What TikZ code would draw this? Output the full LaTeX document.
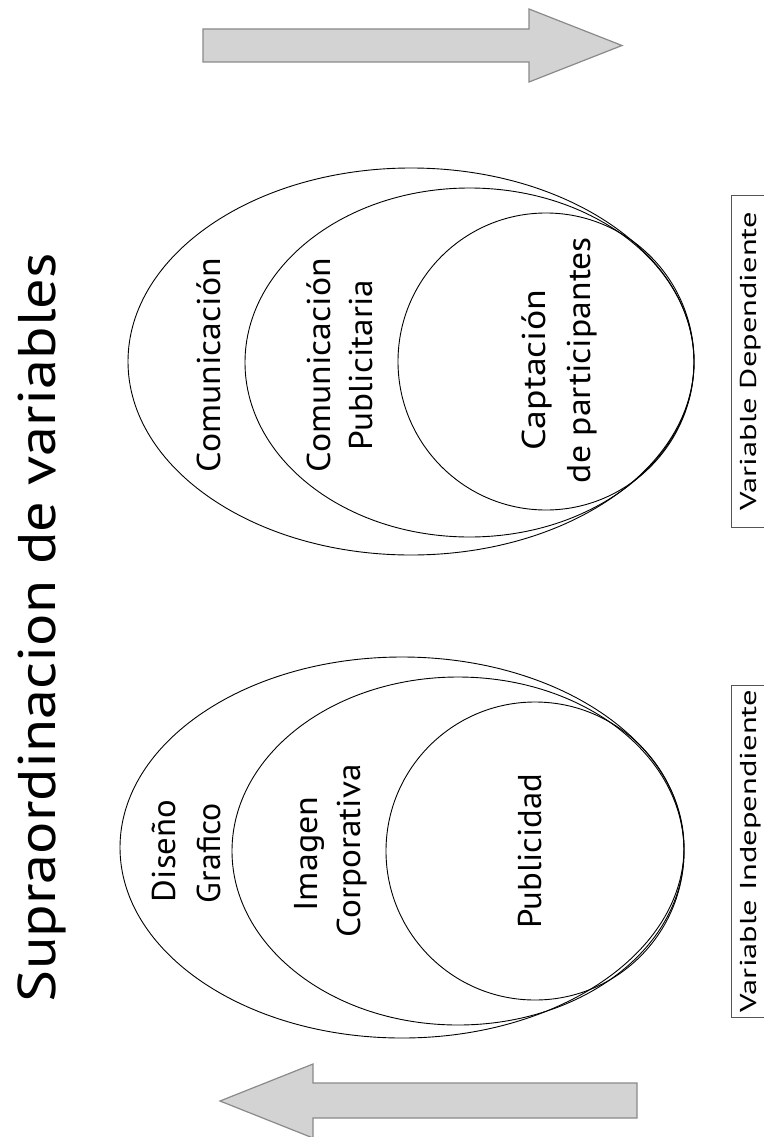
\documentclass[tikz,border=0pt]{standalone}
\usepackage{fontspec}
\setmainfont{PT Sans}
\usepackage{graphicx}
\newcommand{\fitw}[2]{\resizebox{#1pt}{\height}{#2}}
\definecolor{arrowfill}{HTML}{D3D3D3}
\definecolor{arrowline}{HTML}{8A8A8A}
\definecolor{framecol}{HTML}{555555}
\begin{document}
\begin{tikzpicture}[x=1pt,y=-1pt,
  ell/.style={draw=black, line width=0.9pt},
  bigarrow/.style={fill=arrowfill, draw=arrowline, line width=1.2pt, line join=miter},
  framebox/.style={draw=framecol, line width=1pt},
  txt/.style={rotate=90, anchor=base, inner sep=0pt, font=\fontsize{33}{40}\selectfont},
  lbl/.style={rotate=90, anchor=base, inner sep=0pt, font=\fontsize{23}{28}\selectfont},
  ttl/.style={rotate=90, anchor=base, inner sep=0pt, font=\fontsize{53}{60}\selectfont}]
\useasboundingbox (0,0) rectangle (763,1137);
\fill[white] (0,0) rectangle (763,1137);

% title
\node[ttl] (title) at (55,627.5) {\fitw{749}{Supraordinacion de variables}};

% arrows
\draw[bigarrow] (203,29) -- (529,29) -- (529,9) -- (622,45.5) -- (529,82) -- (529,62) -- (203,62) -- cycle;
\draw[bigarrow] (637,1083) -- (313,1083) -- (313,1064) -- (220,1101) -- (313,1138) -- (313,1118) -- (637,1118) -- cycle;

% upper group (dependent)
\draw[ell] (411,361.5) ellipse [x radius=283pt, y radius=193.5pt];
\draw[ell] (469.5,362.5) ellipse [x radius=224.5pt, y radius=174.5pt];
\draw[ell] (546,361.5) ellipse [x radius=148pt, y radius=148.5pt];
\node[txt] (com1) at (220,365) {\fitw{214}{Comunicación}};
\node[txt] (com2) at (330,365) {\fitw{214}{Comunicación}};
\node[txt] (pub2) at (372,365) {\fitw{170}{Publicitaria}};
\node[txt] (cap1) at (545,370) {\fitw{160}{Captación}};
\node[txt] (cap2) at (590,360) {\fitw{246}{de participantes}};

% lower group (independent)
\draw[ell] (402,847.5) ellipse [x radius=282pt, y radius=190.5pt];
\draw[ell] (458,851) ellipse [x radius=226pt, y radius=174pt];
\draw[ell] (535,851) ellipse [x radius=149pt, y radius=149pt];
\node[txt] (dis1) at (175,851) {\fitw{102}{Diseño}};
\node[txt] (dis2) at (220,853) {\fitw{100}{Grafico}};
\node[txt] (img1) at (317,854) {\fitw{115}{Imagen}};
\node[txt] (img2) at (360,851) {\fitw{173}{Corporativa}};
\node[txt] (publ) at (541,851) {\fitw{155}{Publicidad}};

% variable labels
\draw[framebox] (766,195) -- (731,195) -- (731,527) -- (766,527);
\node[lbl] (vdep) at (756,361) {\fitw{298}{Variable Dependiente}};
\draw[framebox] (766,685) -- (731,685) -- (731,1017) -- (766,1017);
\node[lbl] (vind) at (756,851) {\fitw{322}{Variable Independiente}};
\end{tikzpicture}
\end{document}
